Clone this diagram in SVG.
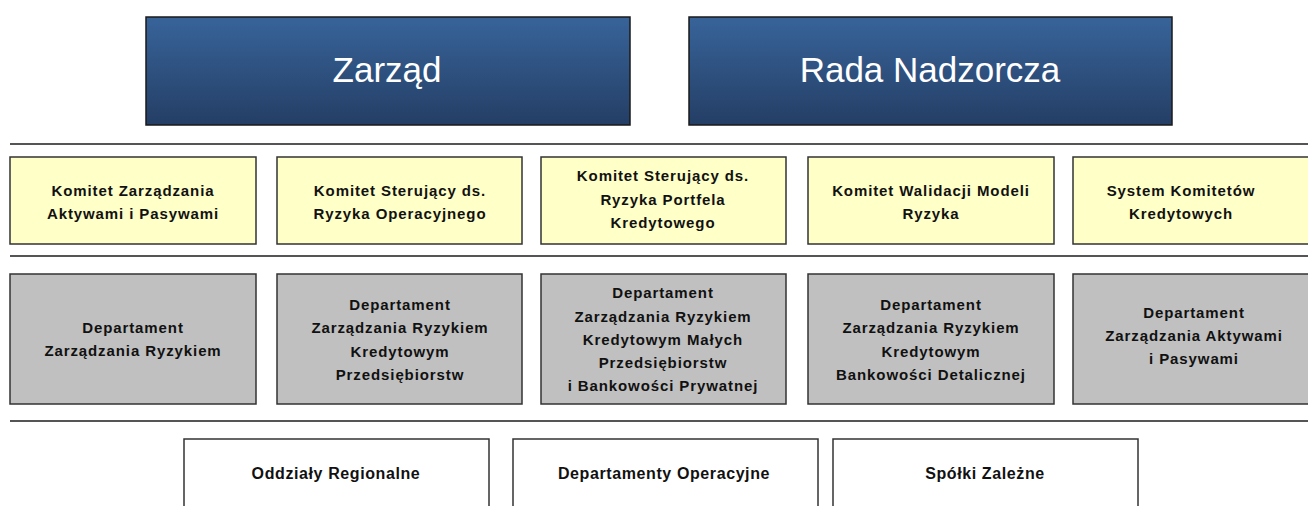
<svg xmlns="http://www.w3.org/2000/svg" width="1308" height="506" viewBox="0 0 1308 506">
<defs>
<linearGradient id="blue" x1="0" y1="0" x2="0" y2="1">
<stop offset="0" stop-color="#38649a"/>
<stop offset="1" stop-color="#243e65"/>
</linearGradient>
<style>
.top{fill:url(#blue);stroke:#1a1a1a;stroke-width:1.5}
.yel{fill:#ffffc8;stroke:#333;stroke-width:1.5}
.gry{fill:#c0c0c0;stroke:#333;stroke-width:1.5}
.wht{fill:#fff;stroke:#333;stroke-width:1.5}
.sep{stroke:#555;stroke-width:2}
.tt{font-family:"Liberation Sans",Arial,sans-serif;font-size:35px;fill:#fff;text-anchor:middle}
.t{font-family:"Liberation Sans",Arial,sans-serif;font-size:15px;font-weight:bold;fill:#111;text-anchor:middle;letter-spacing:0.9px}
.tb{font-family:"Liberation Sans",Arial,sans-serif;font-size:16px;font-weight:bold;fill:#111;text-anchor:middle;letter-spacing:0.6px}
</style>
</defs>
<rect width="1308" height="506" fill="#fff"/>
<g id="connectors">
<line class="sep" x1="10" y1="144" x2="1308" y2="144"/>
<line class="sep" x1="10" y1="256" x2="1308" y2="256"/>
<line class="sep" x1="10" y1="421" x2="1308" y2="421"/>
</g>
<g id="zarzad"><rect class="top" x="146" y="17" width="484" height="108"/><text class="tt" x="387" y="82">Zarząd</text></g>
<g id="rada"><rect class="top" x="689" y="17" width="483" height="108"/><text class="tt" x="930" y="82">Rada Nadzorcza</text></g>

<g id="k1"><rect class="yel" x="10" y="157" width="246" height="87"/><text class="t" x="133"><tspan x="133" y="196">Komitet Zarządzania</tspan><tspan x="133" y="219">Aktywami i Pasywami</tspan></text></g>
<g id="k2"><rect class="yel" x="277" y="157" width="245" height="87"/><text class="t" x="400"><tspan x="400" y="196">Komitet Sterujący ds.</tspan><tspan x="400" y="219">Ryzyka Operacyjnego</tspan></text></g>
<g id="k3"><rect class="yel" x="541" y="157" width="245" height="87"/><text class="t" x="663"><tspan x="663" y="181">Komitet Sterujący ds.</tspan><tspan x="663" y="205">Ryzyka Portfela</tspan><tspan x="663" y="228">Kredytowego</tspan></text></g>
<g id="k4"><rect class="yel" x="808" y="157" width="246" height="87"/><text class="t" x="931"><tspan x="931" y="196">Komitet Walidacji Modeli</tspan><tspan x="931" y="219">Ryzyka</tspan></text></g>
<g id="k5"><rect class="yel" x="1073" y="157" width="245" height="87"/><text class="t" x="1181"><tspan x="1181" y="196">System Komitetów</tspan><tspan x="1181" y="219">Kredytowych</tspan></text></g>

<g id="d1"><rect class="gry" x="10" y="274" width="246" height="130"/><text class="t" x="133"><tspan x="133" y="333">Departament</tspan><tspan x="133" y="356">Zarządzania Ryzykiem</tspan></text></g>
<g id="d2"><rect class="gry" x="277" y="274" width="245" height="130"/><text class="t" x="400"><tspan x="400" y="310">Departament</tspan><tspan x="400" y="333">Zarządzania Ryzykiem</tspan><tspan x="400" y="357">Kredytowym</tspan><tspan x="400" y="380">Przedsiębiorstw</tspan></text></g>
<g id="d3"><rect class="gry" x="541" y="274" width="245" height="130"/><text class="t" x="663"><tspan x="663" y="298">Departament</tspan><tspan x="663" y="322">Zarządzania Ryzykiem</tspan><tspan x="663" y="345">Kredytowym Małych</tspan><tspan x="663" y="368">Przedsiębiorstw</tspan><tspan x="663" y="391">i Bankowości Prywatnej</tspan></text></g>
<g id="d4"><rect class="gry" x="808" y="274" width="246" height="130"/><text class="t" x="931"><tspan x="931" y="310">Departament</tspan><tspan x="931" y="333">Zarządzania Ryzykiem</tspan><tspan x="931" y="357">Kredytowym</tspan><tspan x="931" y="380">Bankowości Detalicznej</tspan></text></g>
<g id="d5"><rect class="gry" x="1073" y="274" width="245" height="130"/><text class="t" x="1194"><tspan x="1194" y="318">Departament</tspan><tspan x="1194" y="341">Zarządzania Aktywami</tspan><tspan x="1194" y="364">i Pasywami</tspan></text></g>

<g id="b1"><rect class="wht" x="184" y="439" width="305" height="80"/><text class="tb" x="336" y="479">Oddziały Regionalne</text></g>
<g id="b2"><rect class="wht" x="513" y="439" width="305" height="80"/><text class="tb" x="664" y="479">Departamenty Operacyjne</text></g>
<g id="b3"><rect class="wht" x="833" y="439" width="305" height="80"/><text class="tb" x="985" y="479">Spółki Zależne</text></g>
</svg>
